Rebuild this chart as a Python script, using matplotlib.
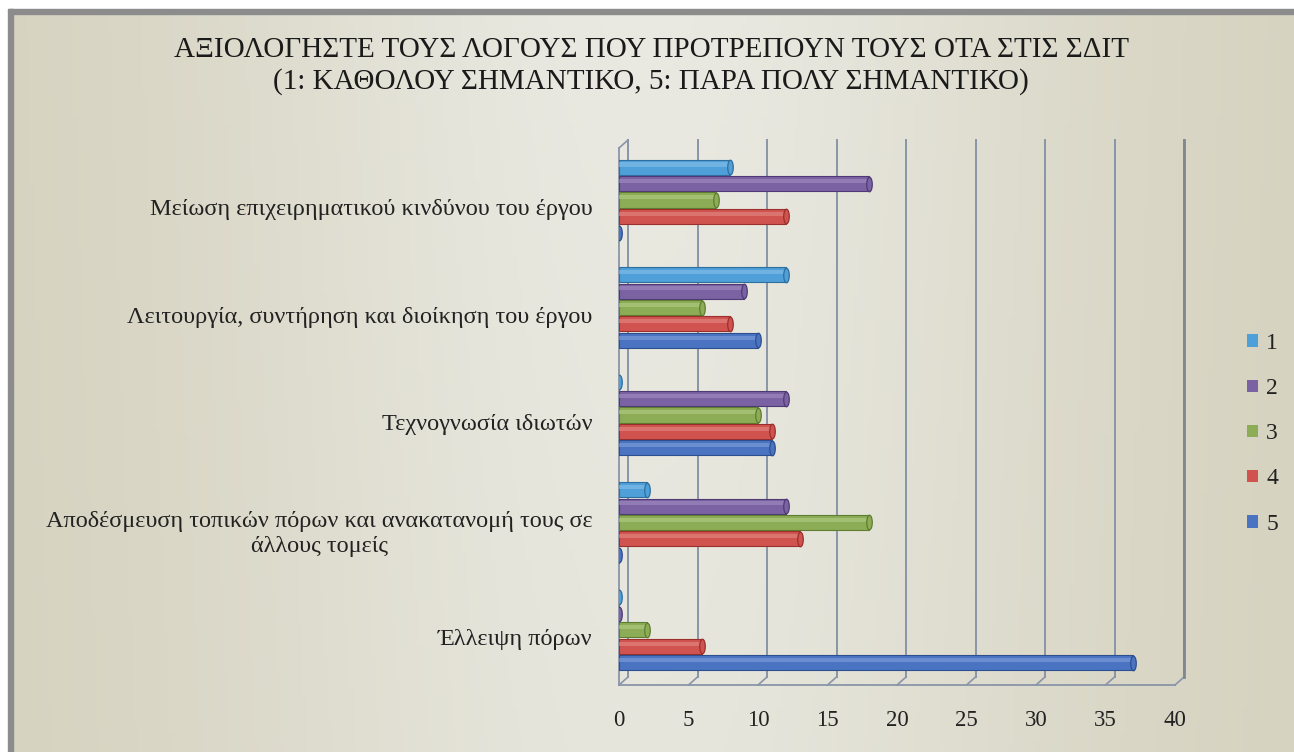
import numpy as np
import matplotlib
matplotlib.use("Agg")
import matplotlib.pyplot as plt
from matplotlib.path import Path
from matplotlib.transforms import Affine2D, ScaledTranslation
from matplotlib.patches import Patch, Rectangle

# ---------------- data ----------------
categories = [
    "Μείωση επιχειρηματικού κινδύνου του έργου",
    "Λειτουργία, συντήρηση και διοίκηση του έργου",
    "Τεχνογνωσία ιδιωτών",
    "Αποδέσμευση τοπικών πόρων και ανακατανομή τους σε\nάλλους τομείς",
    "Έλλειψη πόρων",
]
series_names = ["1", "2", "3", "4", "5"]
s1 = [8, 12, 0, 2, 0]
s2 = [18, 9, 12, 12, 0]
s3 = [7, 6, 10, 18, 2]
s4 = [12, 8, 11, 13, 6]
s5 = [0, 10, 11, 0, 37]
xticks = [0, 5, 10, 15, 20, 25, 30, 35, 40]
title = ("ΑΞΙΟΛΟΓΗΣΤΕ ΤΟΥΣ ΛΟΓΟΥΣ ΠΟΥ ΠΡΟΤΡΕΠΟΥΝ ΤΟΥΣ ΟΤΑ ΣΤΙΣ ΣΔΙΤ\n"
         "(1: ΚΑΘΟΛΟΥ ΣΗΜΑΝΤΙΚΟ, 5: ΠΑΡΑ ΠΟΛΥ ΣΗΜΑΝΤΙΚΟ)")

colors = ["#4f9fd8", "#7b62a3", "#8cad55", "#d0534f", "#4a74c2"]
edges = ["#2f6f9f", "#4f3a75", "#5f7d32", "#9a2f2c", "#2d4f8f"]
lights = ["#8cc3ea", "#a593c4", "#b7d08a", "#e58e8b", "#86a4dc"]

W, H, DPI = 1294, 752, 100
plt.rcParams['font.family'] = ['Liberation Serif', 'DejaVu Serif']
fig = plt.figure(figsize=(W / DPI, H / DPI), dpi=DPI)

# ---------------- background ----------------
bg = fig.add_axes([0, 0, 1, 1], zorder=-10)
bg.set_axis_off()
xx = np.linspace(0, 1, 300)
yy = np.linspace(0, 1, 200)
X, Y = np.meshgrid(xx, yy)
dark = np.array([0.835, 0.82, 0.745])
light = np.array([0.915, 0.915, 0.885])
t = np.exp(-((X - 0.5) / 0.33) ** 2) * (0.85 + 0.15 * Y)
img = dark[None, None, :] * (1 - t[..., None]) + light[None, None, :] * t[..., None]
bg.imshow(img, extent=[0, 1, 0, 1], aspect='auto', origin='lower')
bg.set_xlim(0, 1); bg.set_ylim(0, 1)
bg.add_patch(Rectangle((0, 1 - 9 / H), 1, 9 / H, color="white", zorder=5))
bg.add_patch(Rectangle((0, 1 - 14 / H), 1, 5 / H, color="#8c8c8c", zorder=5))
bg.add_patch(Rectangle((0, 0), 8 / W, 1, color="white", zorder=5))
bg.add_patch(Rectangle((8 / W, 0), 5 / W, 1 - 9 / H, color="#8c8c8c", zorder=5))

# ---------------- main axes ----------------
L, R, T, B = 619, 1175, 148, 685
ax = fig.add_axes([L / W, 1 - B / H, (R - L) / W, (B - T) / H])
ax.set_facecolor("none")
n = len(categories)
ycent = np.arange(n)[::-1].astype(float)
step = 0.153
bh = 0.14
all_series = [s1, s2, s3, s4, s5]
ax.set_xlim(0, 40)
ax.set_ylim(-0.512, 4.484)

dxp, dyp = 9, 8
off = ScaledTranslation(dxp / DPI, dyp / DPI, fig.dpi_scale_trans)
for v in xticks:
    ax.plot([v, v], [0, 1], color="#8995a8", lw=1.4, zorder=1, clip_on=False,
            transform=ax.get_xaxis_transform() + off)
px_per_unit = (R - L) / 40.0
ypu = (B - T) / 4.996
for v in xticks:
    ax.plot([v, v + dxp / px_per_unit], [-0.512, -0.512 + dyp / ypu],
            color="#8995a8", lw=1.2, clip_on=False, zorder=1)
ax.plot([40 + dxp / px_per_unit] * 2,
        [-0.512 + dyp / ypu, 4.484 + dyp / ypu], color="#7f8790", lw=2,
        clip_on=False, zorder=1)
ax.plot([0, dxp / px_per_unit], [4.484, 4.484 + dyp / ypu],
        color="#8995a8", lw=1.2, clip_on=False, zorder=1)

circ = Path.unit_circle()
ell = Affine2D().scale(0.38, 1.0).transform_path(circ)

for k, vals in enumerate(all_series):
    ys = ycent + 2 * step - k * step
    ax.barh(ys, vals, height=bh, color=colors[k], edgecolor=edges[k],
            linewidth=0.8, zorder=3)
    ax.barh(ys + bh * 0.18, vals, height=bh * 0.28, color=lights[k],
            linewidth=0, alpha=0.55, zorder=4)
    ax.scatter(vals, ys, marker=ell, s=110, color=colors[k], edgecolor=edges[k],
               linewidth=0.9, zorder=5)

ax.set_yticks(ycent - 7 / ypu)
ax.set_yticklabels(categories, fontsize=17.5, color="#222222",
                   multialignment="center", linespacing=1.25)
ax.set_xticks(xticks)
ax.set_xticklabels([str(v) for v in xticks], fontsize=16.5, color="#222222")
ax.tick_params(axis="y", length=0, pad=19)
ax.tick_params(axis="x", length=0, pad=18)
for sp in ["top", "right"]:
    ax.spines[sp].set_visible(False)
for sp in ["left", "bottom"]:
    ax.spines[sp].set_color("#8995a8")
    ax.spines[sp].set_linewidth(1.3)

# ---------------- title ----------------
fig.text(651 / W, 1 - 66 / H, title, ha="center", va="center", fontsize=21,
         color="#1a1a1a", linespacing=1.2)

# ---------------- legend ----------------
handles = [Patch(facecolor=c, edgecolor="none") for c in colors]
leg = fig.legend(handles, series_names, loc="upper left",
                 bbox_to_anchor=(1226 / W, 1 - 312 / H), frameon=False,
                 fontsize=17, handlelength=0.45, handleheight=0.45,
                 handletextpad=0.35, labelspacing=1.02)
for txt in leg.get_texts():
    txt.set_color("#222222")

fig.savefig("out.png", dpi=DPI)
